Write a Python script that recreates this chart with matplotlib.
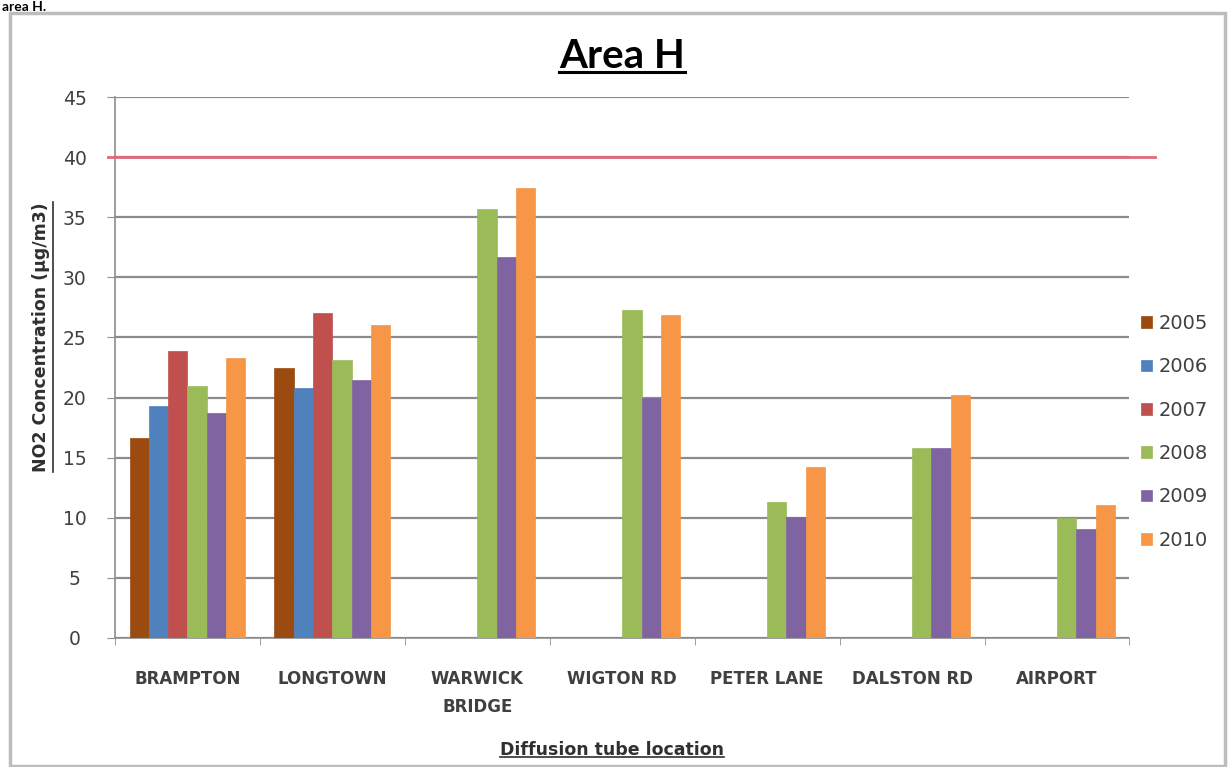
import matplotlib.pyplot as plt
import matplotlib.patches as patches
from matplotlib.lines import Line2D
import numpy as np

plt.rcParams['font.family'] = ['DejaVu Sans']

locations = ["BRAMPTON", "LONGTOWN", "WARWICK\nBRIDGE", "WIGTON RD",
             "PETER LANE", "DALSTON RD", "AIRPORT"]
years = ["2005", "2006", "2007", "2008", "2009", "2010"]

nan = np.nan
no2_2005 = [16.6, 22.5, nan, nan, nan, nan, nan]
no2_2006 = [19.3, 20.8, nan, nan, nan, nan, nan]
no2_2007 = [23.9, 27.0, nan, nan, nan, nan, nan]
no2_2008 = [21.0, 23.1, 35.7, 27.3, 11.3, 15.8, 10.0]
no2_2009 = [18.7, 21.5, 31.7, 20.0, 10.1, 15.8, 9.1]
no2_2010 = [23.3, 26.0, 37.4, 26.9, 14.2, 20.2, 11.1]
series = [no2_2005, no2_2006, no2_2007, no2_2008, no2_2009, no2_2010]

colours = ["#9B4A10", "#4F81BD", "#C0504D", "#9BBB59", "#8064A2", "#F79646"]
limit_value = 40


def underline(fig, txt, vertical=False, lw=1.2, off=0.002):
    # draw a rule under a text object (to the right of it when rotated)
    r = fig.canvas.get_renderer()
    bb = txt.get_window_extent(r).transformed(fig.transFigure.inverted())
    c = txt.get_color()
    if vertical:
        fig.add_artist(Line2D([bb.x1 + off, bb.x1 + off], [bb.y0, bb.y1],
                              transform=fig.transFigure, color=c, lw=lw))
    else:
        fig.add_artist(Line2D([bb.x0, bb.x1], [bb.y0 + off, bb.y0 + off],
                              transform=fig.transFigure, color=c, lw=lw))


fig = plt.figure(figsize=(12.29, 7.67), dpi=100)
ax = fig.add_axes([0.0936, 0.1682, 0.8254, 0.7053])

# outer chart frame
fig.patches.append(patches.Rectangle((10 / 1229, 1 / 767), 1215 / 1229, 753 / 767,
                                     transform=fig.transFigure, fill=False,
                                     edgecolor="#BDBDBD", linewidth=2.5))
fig.text(0.002, 0.999, "area H.", fontsize=10, fontweight="bold", va="top", ha="left",
         family="Lato")

x = np.arange(len(locations))
bw = 0.8 / len(years)
for i, (vals, c, yr) in enumerate(zip(series, colours, years)):
    ax.bar(x - 0.4 + bw * (i + 0.5), vals, width=bw, color=c, label=yr,
           edgecolor=c, linewidth=0.5, zorder=3)

ax.axhline(limit_value, xmin=-0.007, xmax=1.025, color="#E06878", linewidth=2,
           clip_on=False, zorder=4)

ax.set_xlim(-0.5, len(locations) - 0.5)
ax.set_ylim(0, 45)
ax.set_yticks(np.arange(0, 46, 5))
ax.yaxis.grid(True, color="#8C8C8C", linewidth=1.6, zorder=0)
ax.set_axisbelow(True)

ax.set_xticks(x)
ax.set_xticklabels(locations, fontsize=12, fontweight="bold", color="#404040",
                   linespacing=1.75)
ax.set_xticks(np.arange(-0.5, len(locations)), minor=True)
ax.tick_params(axis="x", which="major", length=0, pad=23)
ax.tick_params(axis="x", which="minor", length=5, color="#8C8C8C")
ax.tick_params(axis="y", length=6, color="#8C8C8C", labelsize=13.5, labelcolor="#404040", pad=23)
for lbl in ax.get_yticklabels():
    lbl.set_horizontalalignment("center")

for s in ["top", "right"]:
    ax.spines[s].set_visible(False)
for s in ["left", "bottom"]:
    ax.spines[s].set_color("#8C8C8C")
    ax.spines[s].set_linewidth(1.2)

title = ax.set_title("Area H", fontsize=29, fontweight="bold", pad=21, family="Lato")
ylab = ax.set_ylabel("NO2 Concentration (\u00b5g/m3)", fontsize=12.5, fontweight="bold",
                     color="#303030")
ax.yaxis.set_label_coords(-0.064, 0.556)
xlab = ax.set_xlabel("Diffusion tube location", fontsize=12.5, fontweight="bold",
                     color="#303030")
ax.xaxis.set_label_coords(0.49, -0.19)

leg = ax.legend(loc="center left", bbox_to_anchor=(0.998, 0.381), frameon=False,
                fontsize=14, handlelength=0.55, handleheight=0.55, handletextpad=0.35,
                labelspacing=1.25, borderaxespad=0.3)
for t in leg.get_texts():
    t.set_color("#404040")

fig.canvas.draw()
underline(fig, title, lw=2.2, off=0.004)
underline(fig, ylab, vertical=True)
underline(fig, xlab)

fig.savefig("out.png", dpi=100)
